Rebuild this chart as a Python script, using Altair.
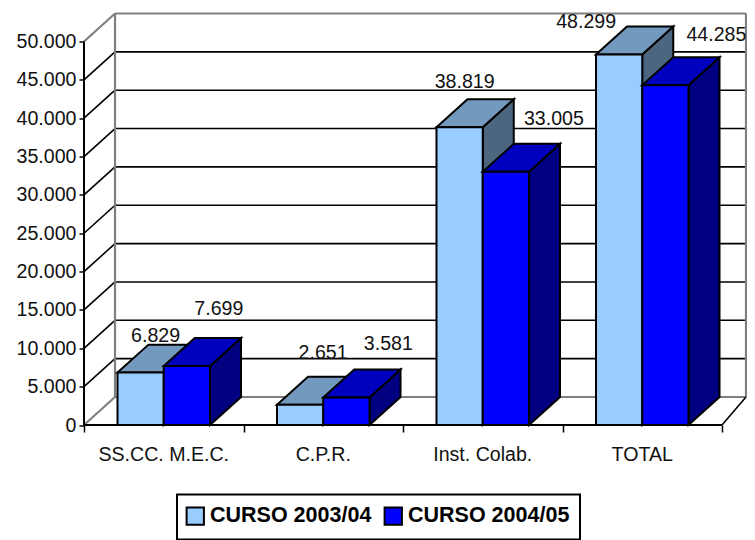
import altair as alt
import pandas as pd

categories = ["SS.CC. M.E.C.", "C.P.R.", "Inst. Colab.", "TOTAL"]
series = ["CURSO 2003/04", "CURSO 2004/05"]
values_2003 = [6829, 2651, 38819, 48299]
values_2004 = [7699, 3581, 33005, 44285]
y_ticks = list(range(0, 50001, 5000))

FONT = "Liberation Sans"
FS = 19.6
front = ["#99CCFF", "#0000FF"]
top = ["#7399BF", "#0000BF"]
side = ["#4D6680", "#000080"]
DX, DY = 0.1944, 3650          # depth of the 3D projection, in axis units
YMAX = 50000 + DY
XMAX = 662 / 159.5
GAP, BW = 0.21, 0.29
# manual nudges of the value labels (px), as placed in the original
nudge_2003 = [(15, -3), (23, -18), (5, -11), (-33, 1)]
nudge_2004 = [(32, -23), (42, -20), (48, -19), (51, -16)]

xs = alt.Scale(domain=[0, XMAX], nice=False, zero=False)
ys = alt.Scale(domain=[0, YMAX], nice=False, zero=False)
x_axis = alt.Axis(values=[0, 1, 2, 3, 4], labels=False, domain=False, grid=False,
                  tickSize=7, tickWidth=1.5, tickColor="black")
y_axis = alt.Axis(values=y_ticks, domain=False, grid=False, tickSize=5, tickWidth=1.5,
                  tickColor="black", labelPadding=3, labelFont=FONT, labelFontSize=FS,
                  labelColor="#111111",
                  labelExpr="replace(format(datum.value, ',d'), ',', '.')")
X = lambda f="x": alt.X(f + ":Q", scale=xs, axis=x_axis, title=None)
Y = lambda f="y": alt.Y(f + ":Q", scale=ys, axis=y_axis, title=None)

def rules(rows, color, width):
    d = pd.DataFrame(rows, columns=["x", "x2", "y", "y2"])
    return alt.Chart(d).mark_rule(color=color, strokeWidth=width).encode(
        x=X(), x2=alt.X2("x2"), y=Y(), y2=alt.Y2("y2"))

grid = [v for v in y_ticks if 0 < v < 50000]
layers = []
# walls and grid
layers.append(rules([(DX, XMAX, v + DY, v + DY) for v in grid], "black", 1.6))
layers.append(rules([(0, DX, v, v + DY) for v in grid], "black", 1.6))
layers.append(rules([(DX, XMAX, DY, DY), (DX, XMAX, YMAX, YMAX), (DX, DX, DY, YMAX),
                     (XMAX, XMAX, DY, YMAX), (0, DX, 0, DY), (0, DX, 50000, YMAX)], "#808080", 2.2))
layers.append(rules([(4, XMAX, 0, DY)], "black", 1.6))
layers.append(rules([(0, 0, 0, 50000), (0, 4, 0, 0)], "black", 2))

color = alt.Color("serie:N", scale=alt.Scale(domain=series, range=front),
                  legend=alt.Legend(title=None, orient="none", legendX=93, legendY=481,
                                    direction="horizontal", columns=2, symbolType="square",
                                    symbolSize=300, symbolStrokeColor="black", symbolStrokeWidth=2,
                                    symbolOpacity=1, symbolOffset=-3, labelOffset=4, columnPadding=9,
                                    labelFont=FONT, labelFontSize=21.5, labelFontWeight="bold",
                                    labelColor="black", labelLimit=300, padding=10.5,
                                    strokeColor="black"))

for s, vals in enumerate([values_2003, values_2004]):
    sd, tp, fr = [], [], []
    for c, v in enumerate(vals):
        l = c + GAP + s * BW
        r = l + BW
        sd += [dict(cat=c, x=r, y=v, y2=0), dict(cat=c, x=r + DX, y=v + DY, y2=DY)]
        tp += [dict(cat=c, y=v, x=l, x2=r), dict(cat=c, y=v + DY, x=l + DX, x2=r + DX)]
        fr.append(dict(serie=series[s], x=l, x2=r, y=v, y2=0))
    layers.append(alt.Chart(pd.DataFrame(sd)).mark_area(
        fill=side[s], stroke="black", strokeWidth=2, opacity=1).encode(
        x=X(), y=Y(), y2=alt.Y2("y2"), detail="cat:N"))
    layers.append(alt.Chart(pd.DataFrame(tp)).mark_area(
        orient="horizontal", fill=top[s], stroke="black", strokeWidth=2, opacity=1).encode(
        y=Y(), x=X(), x2=alt.X2("x2"), detail="cat:N"))
    layers.append(alt.Chart(pd.DataFrame(fr)).mark_rect(stroke="black", strokeWidth=2).encode(
        x=X(), x2=alt.X2("x2"), y=Y(), y2=alt.Y2("y2"), color=color))

# value labels
for s, (vals, nudges) in enumerate([(values_2003, nudge_2003), (values_2004, nudge_2004)]):
    for c, v in enumerate(vals):
        d = pd.DataFrame([dict(x=c + GAP + (s + 0.5) * BW, y=v + DY,
                               t=f"{v:,}".replace(",", "."))])
        layers.append(alt.Chart(d).mark_text(
            font=FONT, fontSize=FS, color="#111111", align="center", baseline="alphabetic",
            dx=nudges[c][0], dy=nudges[c][1]).encode(x=X(), y=Y(), text="t:N"))

# category labels
cat_df = pd.DataFrame({"x": [i + 0.5 for i in range(4)], "y": [0] * 4, "t": categories})
layers.append(alt.Chart(cat_df).mark_text(
    font=FONT, fontSize=FS, color="#111111", align="center", baseline="alphabetic", dy=35.5).encode(
    x=X(), y=Y(), text="t:N"))

chart = alt.layer(*layers).properties(
    width=662, height=411.5,
    autosize=alt.AutoSizeParams(type="none"),
    padding={"left": 76, "top": 5.5, "right": 1, "bottom": 115},
).configure_view(stroke=None).configure_legend(strokeWidth=2)

chart.save("out.html", embed_options={"renderer": "svg", "actions": False})
